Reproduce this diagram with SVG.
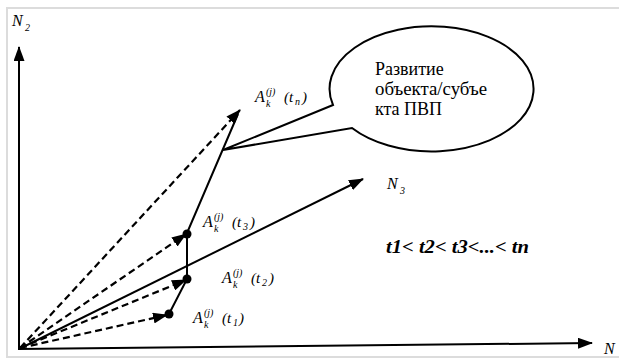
<svg xmlns="http://www.w3.org/2000/svg" width="619" height="363" viewBox="0 0 619 363">
<style>
.ax{stroke:#000;stroke-width:2;fill:none}
.ds{stroke:#000;stroke-width:2.2;fill:none;stroke-dasharray:7 4}
.sl{stroke:#000;stroke-width:2;fill:none}
.it{font-style:italic;fill:#000}
.rm{fill:#000}
.dot{fill:#000}
</style>
<defs>
<marker id="ah" markerUnits="userSpaceOnUse" markerWidth="15" markerHeight="11" refX="14" refY="5.5" orient="auto">
<path d="M0,0 L15,5.5 L0,11 z" fill="#000"/>
</marker>
</defs>
<rect x="0" y="0" width="619" height="363" fill="#fff"/>
<rect x="7" y="8" width="620" height="349" fill="#fff" stroke="#dcdcdc" stroke-width="2"/>

<g font-family="'Liberation Serif', 'Times New Roman', 'DejaVu Serif', serif">
<g id="axes">
<line class="ax" x1="19" y1="349" x2="19" y2="47" marker-end="url(#ah)"/>
<line class="ax" x1="18" y1="349" x2="592" y2="343" marker-end="url(#ah)"/>
<line class="ax" x1="19" y1="349" x2="363" y2="179" marker-end="url(#ah)"/>
<text class="it" x="12" y="26" font-size="16">N</text><text class="it" x="25" y="31" font-size="10">2</text>
<text class="it" x="387" y="189" font-size="16">N</text><text class="it" x="400" y="194" font-size="10">3</text>
<text class="it" x="604" y="354" font-size="16">N</text>
</g>

<g id="connectors">
<line class="ds" x1="20" y1="348" x2="240" y2="110" marker-end="url(#ah)"/>
<line class="ds" x1="20" y1="348" x2="186" y2="234" marker-end="url(#ah)"/>
<line class="ds" x1="20" y1="348" x2="186" y2="280" marker-end="url(#ah)"/>
<line class="ds" x1="20" y1="348" x2="167" y2="315" marker-end="url(#ah)"/>
<polyline class="sl" points="169,314 187,279 187,233 238,114"/>
</g>

<g id="point-t1">
<circle class="dot" cx="169" cy="314" r="4.5"/>
<text class="it" x="193" y="323" font-size="16">A</text>
<text class="it" x="204" y="316" font-size="10">(j)</text>
<text class="it" x="204" y="328" font-size="10">k</text>
<text class="it" x="222" y="323" font-size="15">(t</text>
<text class="it" x="233" y="326" font-size="10">1</text>
<text class="it" x="239" y="323" font-size="15">)</text>
</g>

<g id="point-t2">
<circle class="dot" cx="187" cy="279" r="4.5"/>
<text class="it" x="222" y="283" font-size="16">A</text>
<text class="it" x="233" y="276" font-size="10">(j)</text>
<text class="it" x="233" y="288" font-size="10">k</text>
<text class="it" x="251" y="283" font-size="15">(t</text>
<text class="it" x="262" y="286" font-size="10">2</text>
<text class="it" x="269" y="283" font-size="15">)</text>
</g>

<g id="point-t3">
<circle class="dot" cx="187" cy="234" r="4.5"/>
<text class="it" x="203" y="227" font-size="16">A</text>
<text class="it" x="214" y="220" font-size="10">(j)</text>
<text class="it" x="214" y="232" font-size="10">k</text>
<text class="it" x="232" y="227" font-size="15">(t</text>
<text class="it" x="243" y="230" font-size="10">3</text>
<text class="it" x="250" y="227" font-size="15">)</text>
</g>

<g id="point-tn">
<text class="it" x="255" y="102" font-size="16">A</text>
<text class="it" x="266" y="95" font-size="10">(j)</text>
<text class="it" x="266" y="107" font-size="10">k</text>
<text class="it" x="284" y="102" font-size="15">(t</text>
<text class="it" x="295" y="105" font-size="10">n</text>
<text class="it" x="302" y="102" font-size="15">)</text>
</g>

<g id="callout">
<path d="M333,105 L223,150 L352,128 A102 62.5 0 1 0 333,105 Z" fill="#fff" stroke="#000" stroke-width="2"/>
<text class="rm" x="375" y="75" font-size="18">Развитие</text>
<text class="rm" x="375" y="95" font-size="18" textLength="112" lengthAdjust="spacingAndGlyphs">объекта/субъе</text>
<text class="rm" x="375" y="115" font-size="18">кта ПВП</text>
</g>

<g id="inequality">
<text class="it" x="386" y="253" font-size="18" font-weight="bold" textLength="143" lengthAdjust="spacingAndGlyphs">t1&lt; t2&lt; t3&lt;...&lt; tn</text>
</g>
</g>
</svg>
